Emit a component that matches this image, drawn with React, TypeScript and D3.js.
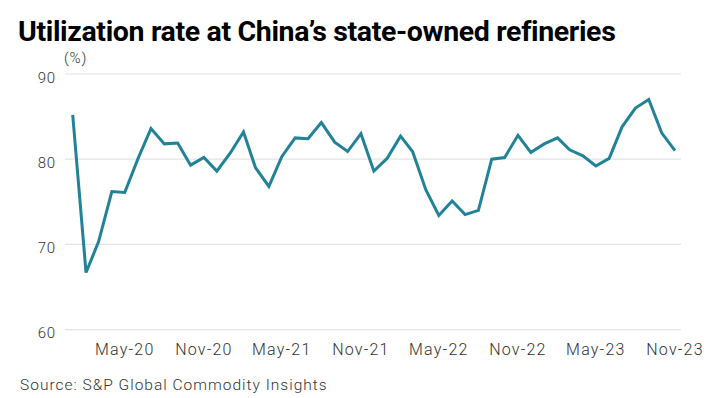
import * as d3 from "d3";
import { useEffect, useRef } from "react";

// monthly utilization, Jan-20 .. Nov-23
const months = d3.timeMonths(new Date(2020, 0, 1), new Date(2023, 11, 1));
const utilization = [
  85.2, 66.7, 70.3, 76.2, 76.1, 80.1, 83.6, 81.8, 81.9, 79.3, 80.2, 78.6,
  80.7, 83.2, 79.0, 76.8, 80.3, 82.5, 82.4, 84.3, 82.0, 80.9, 83.0, 78.6,
  80.1, 82.7, 80.9, 76.4, 73.4, 75.1, 73.5, 74.0, 80.0, 80.2, 82.8, 80.8,
  81.8, 82.5, 81.1, 80.4, 79.2, 80.1, 83.8, 86.0, 87.0, 83.1, 81.0,
];
const yTicks = [60, 70, 80, 90];
const xTickMonths = [
  new Date(2020, 4, 1), new Date(2020, 10, 1),
  new Date(2021, 4, 1), new Date(2021, 10, 1),
  new Date(2022, 4, 1), new Date(2022, 10, 1),
  new Date(2023, 4, 1), new Date(2023, 10, 1),
];

const title = "Utilization rate at China\u2019s state-owned refineries";
const source = "Source: S&P Global Commodity Insights";

const App = () => {
  const svgRef = useRef<SVGSVGElement | null>(null);
  const width = 728;
  const height = 398;

  useEffect(() => {
    if (!svgRef.current) return;
    const svg = d3.select(svgRef.current);
    svg.selectAll("*").remove();

    const font = "Roboto, 'Noto Sans', sans-serif";
    const x = d3
      .scaleTime()
      .domain([months[0], months[months.length - 1]])
      .range([72.7, 675]);
    const y = d3.scaleLinear().domain([60, 90]).range([329.6, 74]);

    svg.append("rect").attr("width", width).attr("height", height).attr("fill", "#fff");

    // title
    svg
      .append("text")
      .attr("x", 18)
      .attr("y", 41)
      .attr("font-family", font)
      .attr("font-weight", 700)
      .attr("font-size", 28.5)
      .attr("letter-spacing", -0.35)
      .attr("fill", "#000")
      .text(title);

    svg
      .append("text")
      .attr("x", 64)
      .attr("y", 63)
      .attr("font-family", font)
      .attr("font-weight", 300)
      .attr("font-size", 15)
      .attr("letter-spacing", 0.8)
      .attr("fill", "#333")
      .text("(%)");

    // gridlines + y labels
    const yAxis = svg.append("g");
    yAxis
      .selectAll("line")
      .data(yTicks)
      .join("line")
      .attr("x1", 65)
      .attr("x2", 681)
      .attr("y1", (d) => y(d))
      .attr("y2", (d) => y(d))
      .attr("stroke", "#e4e4e4")
      .attr("stroke-width", 1.2);
    yAxis
      .selectAll("text")
      .data(yTicks)
      .join("text")
      .attr("x", 56)
      .attr("y", (d) => y(d) + 8.5)
      .attr("text-anchor", "end")
      .attr("font-family", font)
      .attr("font-weight", 300)
      .attr("font-size", 15)
      .attr("letter-spacing", 0.8)
      .attr("fill", "#333")
      .text((d) => d);

    // x labels
    svg
      .append("g")
      .selectAll("text")
      .data(xTickMonths)
      .join("text")
      .attr("x", (d) => x(d))
      .attr("y", 355)
      .attr("text-anchor", "middle")
      .attr("font-family", font)
      .attr("font-weight", 300)
      .attr("font-size", 16)
      .attr("letter-spacing", 1.2)
      .attr("fill", "#333")
      .text((d) => d3.timeFormat("%b-%y")(d));

    // line
    const line = d3
      .line<number>()
      .x((_, i) => x(months[i]))
      .y((d) => y(d));
    svg
      .append("path")
      .datum(utilization)
      .attr("fill", "none")
      .attr("stroke", "#228297")
      .attr("stroke-width", 3)
      .attr("stroke-linejoin", "miter")
      .attr("d", line);

    svg
      .append("text")
      .attr("x", 20)
      .attr("y", 390)
      .attr("font-family", font)
      .attr("font-weight", 300)
      .attr("font-size", 15.5)
      .attr("letter-spacing", 1.0)
      .attr("fill", "#333")
      .text(source);
  }, []);

  return (
    <svg
      ref={svgRef}
      width={width}
      height={height}
      style={{ position: "absolute", left: 0, top: 0, display: "block" }}
    ></svg>
  );
};

export default App;
